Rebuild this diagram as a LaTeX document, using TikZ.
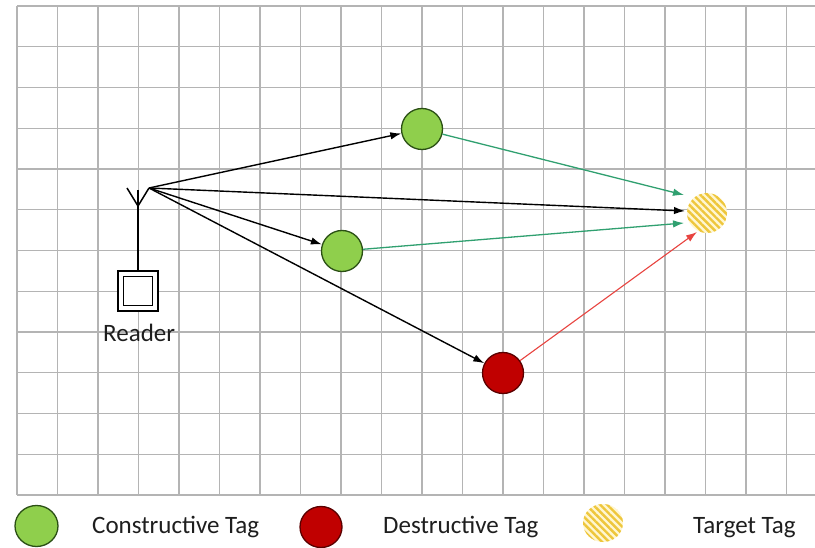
\documentclass[tikz,border=0pt]{standalone}
\usepackage{fontspec}
\setmainfont{Carlito}
\usetikzlibrary{arrows.meta,patterns.meta,shapes.geometric}
\definecolor{gridc}{HTML}{B4B4B4}
\definecolor{tagg}{HTML}{8FCF4C}
\definecolor{taggd}{HTML}{2A4F14}
\definecolor{tagr}{HTML}{C00000}
\definecolor{tagrd}{HTML}{5A0000}
\definecolor{arrg}{HTML}{30A070}
\definecolor{arrr}{HTML}{E84440}
\definecolor{tgty}{HTML}{EEC63A}
\definecolor{tgtbg}{HTML}{FFF6D0}
\definecolor{txt}{HTML}{1E1E1E}
\begin{document}
\begin{tikzpicture}[x=1pt,y=-1pt,
  gridline/.style={draw=gridc, line width=1.2pt},
  lbl/.style={font=\fontsize{25}{30}\selectfont, text=txt, inner sep=0pt, anchor=base west},
  gtag/.style={circle, draw=taggd, fill=tagg, line width=1.3pt, minimum size=41pt, inner sep=0pt},
  rtag/.style={circle, draw=tagrd, fill=tagr, line width=1.3pt, minimum size=41pt, inner sep=0pt},
  ttag/.style={circle, minimum size=40pt, inner sep=0pt, fill=tgtbg,
    postaction={pattern={Lines[angle=-45,distance=5pt,line width=2.4pt]}, pattern color=tgty}},
  lgtag/.style={ellipse, draw=taggd, fill=tagg, line width=1.3pt, minimum width=43pt, minimum height=41pt, inner sep=0pt},
  lrtag/.style={ellipse, draw=tagrd, fill=tagr, line width=1.3pt, minimum width=42pt, minimum height=41pt, inner sep=0pt},
  lttag/.style={ellipse, minimum width=40pt, minimum height=38pt, inner sep=0pt, fill=tgtbg,
    postaction={pattern={Lines[angle=-45,distance=5pt,line width=2.4pt]}, pattern color=tgty}},
  sig/.style={-{Latex[length=11pt,width=7.5pt]}, line width=1.4pt},
  readerbox/.style={rectangle, draw=black, line width=2pt, fill=white, minimum size=40pt, inner sep=0pt},
  readerin/.style={rectangle, draw=black, line width=1.8pt, minimum size=29pt, inner sep=0pt},
]
\useasboundingbox (0,0) rectangle (815,548);
\fill[white] (0,0) rectangle (815,548);
% grid
\foreach \j in {0,...,12} {
  \draw[gridline] (17,{6+40.75*\j}) -- (815,{6+40.75*\j});
}
\foreach \k in {0,...,19} {
  \draw[gridline] ({17+40.5*\k},6) -- ({17+40.5*\k},495);
}
% reader
\node[readerbox] (reader) at (138,291) {};
\node[readerin] (readerinner) at (138,291) {};
\node[lbl] (readerlbl) at (103,342) {Reader};
\coordinate (antL) at (127,188);
\coordinate (antR) at (149,188);
\coordinate (antB) at (138,206);
\coordinate (antT) at (138,190);
\coordinate (tx) at (149,188);
\draw[line width=1.5pt, line join=round] (antL) -- (antB) -- (antR);
\draw[line width=1.5pt] (antT) -- (reader.north);
% tags
\node[gtag] (g1) at (422,129) {};
\node[gtag] (g2) at (342,251) {};
\node[rtag] (rd) at (503,373) {};
\node[ttag] (tgt) at (707,213) {};
\coordinate (t0) at (685,211);
\coordinate (t1) at (684,195);
\coordinate (t2) at (684,223);
\coordinate (t3) at (697,232);
% signals
\draw[sig] (tx) -- (g1);
\draw[sig] (tx) -- (t0);
\draw[sig] (tx) -- (g2);
\draw[sig] (tx) -- (rd);
\draw[sig, draw=arrg, line width=1.3pt] (g1) -- (t1);
\draw[sig, draw=arrg, line width=1.3pt] (g2) -- (t2);
\draw[sig, draw=arrr, line width=1.1pt] (rd) -- (t3);
% legend
\node[lgtag] (lg) at (36.5,526) {};
\node[lbl] (lgl) at (92,533) {Constructive Tag};
\node[lrtag] (lr) at (321,527) {};
\node[lbl] (lrl) at (383,533) {Destructive Tag};
\node[lttag] (lt) at (603,523) {};
\node[lbl] (ltl) at (693,533) {Target Tag};
\end{tikzpicture}
\end{document}
